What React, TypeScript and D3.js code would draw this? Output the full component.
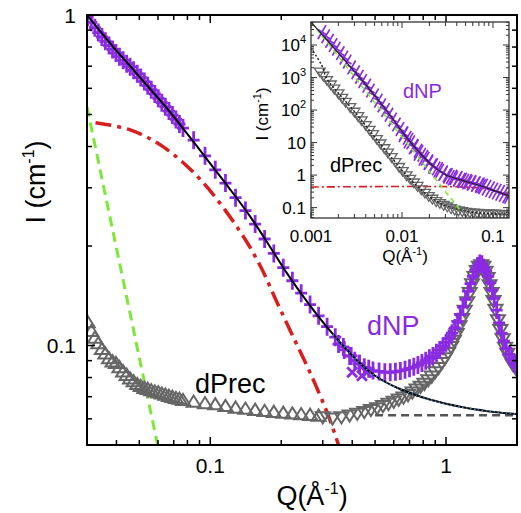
import React from "react";
import * as d3 from "d3";

// ---------- main chart data ----------
const dnpLowQ = [0.0302,0.0313,0.0324,0.0335,0.0347,0.0359,0.0372,0.0385,0.0398,0.0412,0.0427,0.0442,0.0457,0.0473,0.049,0.0507,0.0525,0.0543,0.0562,0.0582,0.0602,0.0623,0.0645,0.0668,0.0691,0.0715,0.074];
const dnpLowI = [0.985,0.95,0.915,0.885,0.858,0.833,0.808,0.787,0.767,0.748,0.729,0.712,0.697,0.68,0.664,0.647,0.629,0.611,0.594,0.577,0.56,0.543,0.528,0.512,0.498,0.483,0.468];
const dnpMidQ = [0.0766,0.085,0.095,0.105,0.116,0.128,0.141,0.155,0.17,0.186,0.204,0.223,0.243,0.265,0.288,0.313,0.339,0.367,0.396,0.427];
const dnpMidI = [0.455,0.418,0.375,0.34,0.31,0.28,0.256,0.233,0.21,0.19,0.172,0.157,0.144,0.133,0.123,0.114,0.106,0.099,0.093,0.088];
const dnpHighQ = [0.35,0.37,0.39,0.41,0.43,0.45,0.47,0.49,0.52,0.55,0.58,0.61,0.64,0.67,0.7,0.73,0.76,0.79,0.82,0.85,0.88,0.91,0.94,0.97,1.0,1.03,1.06,1.09,1.12,1.15,1.18,1.21,1.24,1.27,1.3,1.33,1.36,1.39,1.42,1.45,1.48,1.51,1.54,1.57,1.6,1.64,1.68,1.72,1.76,1.8,1.85,1.9,1.95,2.0];
const dnpHighI = [0.101,0.097,0.093,0.09,0.088,0.086,0.085,0.084,0.0835,0.083,0.083,0.0833,0.0838,0.0845,0.0853,0.0862,0.0873,0.0886,0.09,0.0915,0.093,0.095,0.097,0.0995,0.102,0.105,0.109,0.113,0.118,0.124,0.131,0.138,0.146,0.154,0.162,0.169,0.174,0.177,0.176,0.172,0.168,0.162,0.155,0.147,0.139,0.128,0.117,0.109,0.103,0.098,0.094,0.091,0.088,0.086];
const dnpCrossQ = [0.4,0.44,0.46];
const dnpCrossI = [0.083,0.081,0.083];

const precLowQ = [0.0302,0.0313,0.0324,0.0335,0.0347,0.0359,0.0372,0.0385,0.0398,0.0412,0.0427,0.0442,0.0457,0.0473,0.049,0.0507,0.0525,0.0543,0.0562,0.0582,0.0602,0.0623,0.0645,0.0668,0.0691,0.0715,0.074];
const precLowI = [0.117,0.11,0.105,0.101,0.097,0.094,0.091,0.089,0.088,0.0855,0.083,0.081,0.079,0.0775,0.076,0.075,0.074,0.0735,0.0728,0.0722,0.0717,0.0712,0.0706,0.07,0.0695,0.069,0.0686];
const precMidQ = [0.0766,0.085,0.095,0.105,0.116,0.128,0.141,0.155,0.17,0.186,0.204,0.223,0.243,0.265,0.288];
const precMidI = [0.068,0.0672,0.0665,0.066,0.0652,0.0645,0.064,0.0635,0.063,0.0626,0.0622,0.0619,0.0616,0.0613,0.061];
const precHighQ = [0.3,0.33,0.36,0.39,0.42,0.45,0.48,0.51,0.54,0.57,0.6,0.63,0.66,0.69,0.72,0.75,0.78,0.81,0.84,0.87,0.9,0.93,0.96,0.99,1.02,1.05,1.08,1.11,1.14,1.17,1.2,1.23,1.26,1.29,1.32,1.35,1.38,1.41,1.44,1.47,1.5,1.53,1.56,1.59,1.62,1.66,1.7,1.74,1.78,1.82,1.87,1.92,1.97,2.0];
const precHighI = [0.061,0.0605,0.061,0.0618,0.0625,0.0633,0.0642,0.065,0.066,0.067,0.068,0.069,0.07,0.0712,0.0725,0.074,0.0755,0.077,0.079,0.081,0.0835,0.086,0.089,0.092,0.0955,0.0995,0.104,0.109,0.115,0.121,0.128,0.136,0.145,0.154,0.162,0.169,0.174,0.176,0.174,0.168,0.161,0.153,0.145,0.137,0.129,0.12,0.112,0.105,0.099,0.095,0.091,0.088,0.086,0.085];

const fitQ = [0.03,0.0388,0.0458,0.0541,0.0658,0.0746,0.0881,0.1,0.12,0.148,0.18,0.212,0.265,0.332,0.42,0.5,0.62,0.86,1.18,1.5,2.0];
const fitI = [1.0,0.8,0.7,0.61,0.52,0.465,0.4,0.355,0.3,0.245,0.198,0.165,0.132,0.108,0.09,0.081,0.0745,0.0685,0.065,0.0633,0.062];
const bgQ = [0.5,2.0];
const bgI = [0.0615,0.0615];
const redQ = [0.0326,0.0458,0.0632,0.0907,0.134,0.163,0.192,0.225,0.265,0.313,0.35,0.37];
const redI = [0.472,0.449,0.399,0.318,0.221,0.174,0.135,0.106,0.0828,0.0627,0.05,0.044];
const greenQ = [0.03,0.0595,0.064];
const greenI = [0.527,0.0509,0.04];

// ---------- inset data ----------
const inDnpQ = [0.00132,0.00145,0.0016,0.00175,0.0019,0.0021,0.0023,0.0025,0.0028,0.0031,0.0034,0.0037,0.0041,0.0045,0.005,0.0055,0.006,0.0066,0.0072,0.0079,0.0087,0.0095,0.0104,0.0114,0.0125,0.0137,0.015,0.0165,0.018,0.0198,0.0217,0.0238,0.026,0.0285,0.0312,0.034,0.0372,0.0408,0.0447,0.049,0.0537,0.0588,0.0645,0.0707,0.075];
const inDnpI = [25000,18500,13500,10000,7700,5600,4100,3100,2050,1450,1050,780,560,400,280,195,140,100,72,51,36,26,19,14,10.2,7.6,5.6,4.2,3.2,2.5,1.95,1.6,1.35,1.15,0.98,0.87,0.8,0.75,0.71,0.664,0.61,0.57,0.525,0.485,0.46];
const inDnp2Q = [0.0104,0.0118,0.0134,0.0152,0.0172,0.0195,0.022,0.025,0.0283,0.032,0.036,0.041,0.046,0.052,0.058,0.065,0.072,0.078,0.085,0.093,0.101,0.11,0.12,0.131,0.143,0.15];
const inDnp2I = [18,11.5,7.5,4.8,3.4,2.5,1.9,1.45,1.15,0.95,0.84,0.76,0.69,0.63,0.58,0.53,0.49,0.45,0.41,0.37,0.34,0.31,0.285,0.26,0.24,0.23];
const inPrecQ = [0.00125,0.00137,0.0015,0.00165,0.0018,0.002,0.0022,0.0024,0.0027,0.003,0.0033,0.0036,0.004,0.0044,0.0048,0.0053,0.0058,0.0064,0.007,0.0077,0.0085,0.0093,0.0102,0.0112,0.0123,0.0135,0.0148,0.0163,0.0179,0.0197,0.0216,0.0238,0.0261,0.0287,0.0315,0.0346,0.038,0.0418,0.046,0.0505,0.0555,0.061,0.067,0.0737];
const inPrecI = [1550,1150,850,620,460,330,240,180,125,90,66,49,35,25,18.5,13,9.5,6.8,5.0,3.6,2.55,1.8,1.35,1.0,0.78,0.6,0.47,0.37,0.29,0.23,0.19,0.16,0.14,0.122,0.11,0.097,0.088,0.083,0.079,0.075,0.073,0.0715,0.0703,0.069];
const inPrec2Q = [0.08,0.088,0.096,0.105,0.115,0.126,0.138,0.15];
const inPrec2I = [0.068,0.067,0.0665,0.066,0.0652,0.0645,0.064,0.0635];
const inFitQ = [0.001,0.0015,0.002,0.004,0.007,0.01,0.013,0.017,0.022,0.03,0.045,0.075,0.1,0.15];
const inFitI = [51000,14000,5600,600,85,22,8.8,3.8,1.9,1.02,0.7,0.46,0.345,0.23];
const inPrecFitQ = [0.001,0.0013,0.0015,0.002,0.003,0.005,0.008,0.012,0.02,0.03,0.06,0.15];
const inPrecFitI = [8000,2500,900,330,90,15,3.0,0.8,0.22,0.115,0.072,0.063];
const inGreenQ = [0.001,0.045];
const inGreenI = [51000,0.075];
const inRedQ = [0.001,0.05,0.08,0.12,0.15];
const inRedI = [0.43,0.43,0.38,0.3,0.26];

// tick values
const mainXMajor = [0.1, 1];
const mainXMinor = [0.04,0.05,0.06,0.07,0.08,0.09,0.2,0.3,0.4,0.5,0.6,0.7,0.8,0.9];
const mainYMajor = [0.1, 1];
const mainYMinor = [0.06,0.07,0.08,0.09,0.2,0.3,0.4,0.5,0.6,0.7,0.8,0.9];
const inXMajor = [0.001,0.01,0.1];
const inXLabels = ["0.001","0.01","0.1"];
const inYMajor = [0.1,1,10,100,1000,10000];
const inYBase = ["0.1","1","10","10","10","10"];
const inYSup = ["","","","2","3","4"];

const PURPLE = "#8a2be2";
const GRAY = "#666666";
const RED = "#d81e1e";
const GREEN = "#7de83a";
const BLUE = "#3d9bd8";
const FONT = "'Liberation Sans', Arial, sans-serif";

function zip(q: number[], v: number[]) {
  return q.map((d, i) => [d, v[i]] as [number, number]);
}

export default function App() {
  const x = d3.scaleLog().domain([0.03, 2.0]).range([87, 517]);
  const y = d3.scaleLog().domain([0.05, 1]).range([445, 15]);
  const ix = d3.scaleLog().domain([0.001, 0.15]).range([311, 509]);
  const iy = d3.scaleLog().domain([0.048, 51000]).range([218, 22]);

  const line = (sx: any, sy: any) =>
    d3.line<[number, number]>().x(d => sx(d[0])).y(d => sy(d[1])).curve(d3.curveCatmullRom.alpha(0.5));

  const mainLine = line(x, y);
  const inLine = line(ix, iy);

  const plus = (px: number, py: number, hw = 6, hh = 9) =>
    `M${px - hw},${py}h${hw * 2}M${px},${py - hh}v${hh * 2}`;
  const triDown = (px: number, py: number, s = 7) =>
    `M${px - s},${py - s * 0.6}L${px + s},${py - s * 0.6}L${px},${py + s}Z`;
  const triUp = (px: number, py: number, s = 7) =>
    `M${px - s},${py + s * 0.6}L${px + s},${py + s * 0.6}L${px},${py - s}Z`;

  const mainTicks: any[] = [];
  mainXMajor.forEach((v, i) => {
    mainTicks.push(<line key={"xM" + i} x1={x(v)} x2={x(v)} y1={445} y2={437} />);
    mainTicks.push(<line key={"xMt" + i} x1={x(v)} x2={x(v)} y1={15} y2={23} />);
  });
  mainXMinor.forEach((v, i) => {
    mainTicks.push(<line key={"xm" + i} x1={x(v)} x2={x(v)} y1={445} y2={440} />);
    mainTicks.push(<line key={"xmt" + i} x1={x(v)} x2={x(v)} y1={15} y2={20} />);
  });
  mainYMajor.forEach((v, i) => {
    mainTicks.push(<line key={"yM" + i} x1={87} x2={95} y1={y(v)} y2={y(v)} />);
    mainTicks.push(<line key={"yMr" + i} x1={517} x2={509} y1={y(v)} y2={y(v)} />);
  });
  mainYMinor.forEach((v, i) => {
    mainTicks.push(<line key={"ym" + i} x1={87} x2={92} y1={y(v)} y2={y(v)} />);
    mainTicks.push(<line key={"ymr" + i} x1={517} x2={512} y1={y(v)} y2={y(v)} />);
  });

  const inTicks: any[] = [];
  const inXMinor: number[] = [];
  [0.001, 0.01, 0.1].forEach(dec => {
    for (let k = 2; k <= 9; k++) {
      const v = dec * k;
      if (v < 0.15) inXMinor.push(v);
    }
  });
  const inYMinor: number[] = [];
  [0.01, 0.1, 1, 10, 100, 1000, 10000].forEach(dec => {
    for (let k = 2; k <= 9; k++) {
      const v = dec * k;
      if (v > 0.048 && v < 51000) inYMinor.push(v);
    }
  });
  inXMajor.forEach((v, i) => {
    inTicks.push(<line key={"ixM" + i} x1={ix(v)} x2={ix(v)} y1={218} y2={212} />);
    inTicks.push(<line key={"ixMt" + i} x1={ix(v)} x2={ix(v)} y1={22} y2={28} />);
  });
  inXMinor.forEach((v, i) => {
    inTicks.push(<line key={"ixm" + i} x1={ix(v)} x2={ix(v)} y1={218} y2={214} />);
    inTicks.push(<line key={"ixmt" + i} x1={ix(v)} x2={ix(v)} y1={22} y2={26} />);
  });
  inYMajor.forEach((v, i) => {
    inTicks.push(<line key={"iyM" + i} x1={311} x2={317} y1={iy(v)} y2={iy(v)} />);
    inTicks.push(<line key={"iyMr" + i} x1={509} x2={503} y1={iy(v)} y2={iy(v)} />);
  });
  inYMinor.forEach((v, i) => {
    inTicks.push(<line key={"iym" + i} x1={311} x2={314} y1={iy(v)} y2={iy(v)} />);
    inTicks.push(<line key={"iymr" + i} x1={509} x2={506} y1={iy(v)} y2={iy(v)} />);
  });

  return (
    <svg width={521} height={513} style={{ position: "absolute", left: 0, top: 0, background: "#fff" }} fontFamily={FONT}>
      <defs>
        <clipPath id="mainClip"><rect x={87} y={15} width={430} height={430} /></clipPath>
        <clipPath id="inClip"><rect x={311} y={22} width={198} height={196} /></clipPath>
      </defs>
      <rect x={0} y={0} width={521} height={513} fill="#fff" />

      {/* main data */}
      <g clipPath="url(#mainClip)">
        <path d={mainLine(zip(greenQ, greenI)) || ""} fill="none" stroke={GREEN} strokeWidth={3} strokeDasharray="10,6" />
        <path d={mainLine(zip(redQ, redI)) || ""} fill="none" stroke={RED} strokeWidth={3.5} strokeDasharray="16,6,4,6" />
        <g fill="none" stroke={GRAY} strokeWidth={2}>
          {zip(precLowQ, precLowI).map((d, i) => <path key={"pl" + i} d={triUp(x(d[0]), y(d[1]))} />)}
          {zip(precMidQ, precMidI).map((d, i) => <path key={"pm" + i} d={triUp(x(d[0]), y(d[1]))} />)}
          {zip(precHighQ, precHighI).map((d, i) => <path key={"ph" + i} d={triDown(x(d[0]), y(d[1]))} />)}
        </g>
        <g fill="none" stroke={PURPLE} strokeWidth={2.8}>
          {zip(dnpLowQ, dnpLowI).map((d, i) => <path key={"nl" + i} d={plus(x(d[0]), y(d[1]))} />)}
          {zip(dnpMidQ, dnpMidI).map((d, i) => <path key={"nm" + i} d={plus(x(d[0]), y(d[1]))} />)}
          {zip(dnpHighQ, dnpHighI).map((d, i) => <path key={"nh" + i} d={plus(x(d[0]), y(d[1]))} />)}
          {zip(dnpCrossQ, dnpCrossI).map((d, i) => <path key={"nx" + i} d={plus(x(d[0]), y(d[1]), 7, 7)} transform={`rotate(45 ${x(d[0])} ${y(d[1])})`} />)}
        </g>
        <path d={mainLine(zip(bgQ, bgI)) || ""} fill="none" stroke="#555" strokeWidth={2.5} strokeDasharray="8,5" />
        <path d={mainLine(zip(fitQ, fitI)) || ""} fill="none" stroke="#000" strokeWidth={2} />
        <path d={mainLine(zip(fitQ.slice(13), fitI.slice(13))) || ""} fill="none" stroke={BLUE} strokeWidth={1.2} strokeDasharray="1.5,2.5" />
      </g>

      {/* main frame and ticks */}
      <g stroke="#000" strokeWidth={1.5}>{mainTicks}</g>
      <rect x={87} y={15} width={430} height={430} fill="none" stroke="#000" strokeWidth={2} />

      {/* main tick labels */}
      <g fontSize={21} fill="#000">
        {mainYMajor.map((v, i) => (
          <text key={"yl" + i} x={76} y={y(v)} textAnchor="end" dominantBaseline="central">{v === 1 ? "1" : "0.1"}</text>
        ))}
        {mainXMajor.map((v, i) => (
          <text key={"xl" + i} x={x(v)} y={473} textAnchor="middle">{v === 1 ? "1" : "0.1"}</text>
        ))}
      </g>
      <text x={312} y={505} textAnchor="middle" fontSize={27}>
        Q(Å<tspan fontSize={16} dy={-11}>-1</tspan><tspan dy={11}>)</tspan>
      </text>
      <text transform="translate(45,182) rotate(-90)" textAnchor="middle" fontSize={27}>
        I (cm<tspan fontSize={16} dy={-11}>-1</tspan><tspan dy={11}>)</tspan>
      </text>
      <text x={367} y={335} fontSize={27} fill={PURPLE}>dNP</text>
      <text x={195} y={393} fontSize={27} fill="#000">dPrec</text>

      {/* inset */}
      <rect x={311} y={22} width={198} height={196} fill="#fff" />
      <g clipPath="url(#inClip)">
        <path d={inLine(zip(inRedQ, inRedI)) || ""} fill="none" stroke={RED} strokeWidth={1.6} strokeDasharray="8,3,2,3" />
        <g fill="none" stroke={GRAY} strokeWidth={1.3}>
          {zip(inPrecQ, inPrecI).map((d, i) => <path key={"ip" + i} d={triDown(ix(d[0]), iy(d[1]), 5.5)} />)}
          {zip(inPrec2Q, inPrec2I).map((d, i) => <path key={"ip2" + i} d={triDown(ix(d[0]), iy(d[1]), 5.5)} />)}
        </g>
        <g fill="none" stroke={PURPLE} strokeWidth={1.7}>
          {zip(inDnpQ, inDnpI).map((d, i) => (
            <path key={"in" + i} d={plus(ix(d[0]), iy(d[1]), 5, 8)} transform={`rotate(30 ${ix(d[0])} ${iy(d[1])})`} />
          ))}
          {zip(inDnp2Q, inDnp2I).map((d, i) => (
            <path key={"in2" + i} d={plus(ix(d[0]), iy(d[1]), 5, 9)} transform={`rotate(30 ${ix(d[0])} ${iy(d[1])})`} />
          ))}
        </g>
        <path d={inLine(zip(inGreenQ, inGreenI)) || ""} fill="none" stroke={GREEN} strokeWidth={1.6} strokeDasharray="5,4" />
        <path d={inLine(zip(inFitQ, inFitI)) || ""} fill="none" stroke="#222" strokeWidth={1.2} />
        <path d={inLine(zip(inPrecFitQ, inPrecFitI)) || ""} fill="none" stroke="#222" strokeWidth={1.5} strokeDasharray="2,2" />
      </g>
      <g stroke="#333" strokeWidth={1}>{inTicks}</g>
      <rect x={311} y={22} width={198} height={196} fill="none" stroke="#333" strokeWidth={1.3} />
      <g fontSize={17} fill="#000">
        {inYMajor.map((v, i) => (
          <text key={"iyl" + i} x={306} y={iy(v) + 6} textAnchor="end">
            {inYBase[i]}
            {inYSup[i] ? <tspan fontSize={11} dy={-8}>{inYSup[i]}</tspan> : null}
          </text>
        ))}
        {inXMajor.map((v, i) => (
          <text key={"ixl" + i} x={ix(v)} y={242} textAnchor="middle">{inXLabels[i]}</text>
        ))}
      </g>
      <text x={405} y={262} textAnchor="middle" fontSize={17}>
        Q(Å<tspan fontSize={11} dy={-7}>-1</tspan><tspan dy={7}>)</tspan>
      </text>
      <text transform="translate(268,114) rotate(-90)" textAnchor="middle" fontSize={17}>
        I (cm<tspan fontSize={11} dy={-7}>-1</tspan><tspan dy={7}>)</tspan>
      </text>
      <text x={403} y={98} fontSize={20} fill={PURPLE}>dNP</text>
      <text x={330} y={172} fontSize={20} fill="#000">dPrec</text>
    </svg>
  );
}
